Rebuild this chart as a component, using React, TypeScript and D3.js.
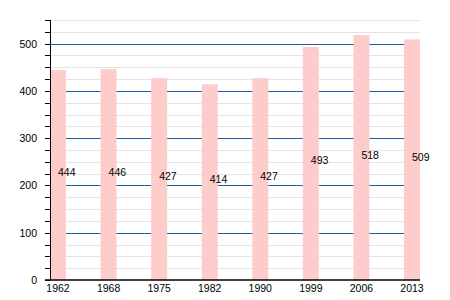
import React from "react";
import * as d3 from "d3";

const years = ["1962", "1968", "1975", "1982", "1990", "1999", "2006", "2013"];
const values = [444, 446, 427, 414, 427, 493, 518, 509];
const majorTicks = [0, 100, 200, 300, 400, 500];

const W = 450;
const H = 300;
const left = 50;
const right = 420;
const top = 20;
const bottom = 280;
const barW = 16;

export default function App() {
  const y = d3.scaleLinear().domain([0, 550]).range([bottom, top]);
  const x = d3.scalePoint<string>().domain(years).range([left, right - barW]);
  const minorTicks = d3.range(0, 551, 25);
  const font = "'Liberation Sans', Arial, sans-serif";
  const py = (v: number) => Math.round(y(v)) + 0.5;

  return (
    <svg
      width={W}
      height={H}
      style={{ position: "absolute", left: 0, top: 0, background: "#fff" }}
      fontFamily={font}
    >
      {minorTicks
        .filter((t) => t % 100 !== 0)
        .map((t) => (
          <line key={"m" + t} x1={left} x2={right} y1={py(t)} y2={py(t)} stroke="#e3e3e3" strokeWidth={1} />
        ))}
      {majorTicks
        .filter((t) => t > 0)
        .map((t) => (
          <line key={"M" + t} x1={left} x2={right} y1={py(t)} y2={py(t)} stroke="#1c5f9e" strokeWidth={1} />
        ))}
      {years.map((yr, i) => (
        <rect
          key={yr}
          x={x(yr)!}
          y={y(values[i])}
          width={barW}
          height={bottom - y(values[i])}
          fill="#ffcccc"
        />
      ))}
      {years.map((yr, i) => (
        <text
          key={"v" + yr}
          x={x(yr)! + barW / 2}
          y={y(values[i] / 2) + 1}
          fontSize={10.5}
          fill="#000"
        >
          {values[i]}
        </text>
      ))}
      <line x1={left + 0.5} x2={left + 0.5} y1={top} y2={bottom} stroke="#000" strokeWidth={1} />
      {minorTicks.map((t) => (
        <line key={"t" + t} x1={left - 5} x2={left} y1={py(t)} y2={py(t)} stroke="#000" strokeWidth={1} />
      ))}
      <line x1={left - 5} x2={right} y1={bottom} y2={bottom} stroke="#000" strokeWidth={1.5} />
      {majorTicks.map((t) => (
        <text key={"l" + t} x={37} y={y(t) + 4} fontSize={10.5} textAnchor="end" fill="#000">
          {t}
        </text>
      ))}
      {years.map((yr) => (
        <text key={"x" + yr} x={x(yr)! + barW / 2} y={292} fontSize={10.5} textAnchor="middle" fill="#000">
          {yr}
        </text>
      ))}
    </svg>
  );
}
